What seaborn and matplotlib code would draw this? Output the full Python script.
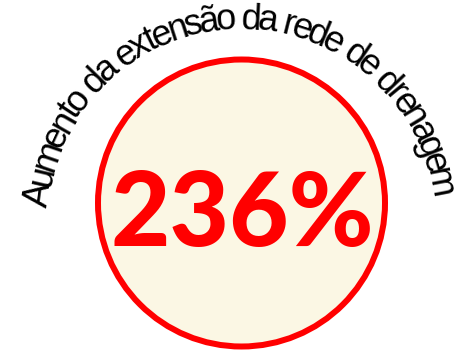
import numpy as np
import matplotlib
matplotlib.use("Agg")
import matplotlib.pyplot as plt
import seaborn as sns
from matplotlib.patches import Circle
from matplotlib import font_manager as fm

# ---- data ----
title_text = "Aumento da extensão da rede de drenagem"
value = 236
value_label = f"{value}%"

# ---- style ----
sns.set_theme(style="white")
plt.rcParams["font.family"] = ["Liberation Sans", "DejaVu Sans"]

W, H, DPI = 461, 354, 100
fig = plt.figure(figsize=(W / DPI, H / DPI), dpi=DPI)
ax = fig.add_axes([0, 0, 1, 1])
ax.set_xlim(0, W)
ax.set_ylim(H, 0)
ax.axis("off")

# circle
ccx, ccy, r_out, lw_px = 241.5, 203.0, 146.5, 6.0
ax.add_patch(Circle((ccx, ccy), r_out - lw_px / 2, facecolor="#FBF7E4",
                    edgecolor="#FF0000", linewidth=lw_px * 72 / DPI, zorder=1))

# big value: pick a bold narrow face if present
cands = [f for f in fm.fontManager.ttflist
         if f.name == "Liberation Sans Narrow" and (f.weight in ("bold", 700) or
                                                    "Bold" in f.fname) and "Italic" not in f.fname]
if cands:
    vprop = fm.FontProperties(fname=cands[0].fname, size=85)
else:
    vprop = fm.FontProperties(family="Lato", weight="black", size=74)
ax.text(242, 246, value_label, ha="center", va="baseline", fontproperties=vprop,
        color="#FF0000", zorder=3)

# curved title
arc_fs = 26
acx, acy, R = 240.0, 222.0, 193.0
th_s, th_e = np.radians(175.0), np.radians(7.4)
fp = fm.FontProperties(family="Liberation Sans", size=arc_fs)
font = fm.get_font(fm.findfont(fp))
font.set_size(arc_fs, DPI)
adv = np.array([font.load_char(ord(c)).linearHoriAdvance / 65536 for c in title_text])
k = R * (th_s - th_e) / adv.sum()
centers = k * (np.cumsum(adv) - adv / 2)
for ch, s in zip(title_text, centers):
    th = th_s - s / R
    x = acx + R * np.cos(th)
    y = acy - R * np.sin(th)
    ax.text(x, y, ch, ha="center", va="baseline", rotation=np.degrees(th) - 90,
            rotation_mode="anchor", fontsize=arc_fs, family="Liberation Sans",
            color="black", zorder=4)

fig.savefig("out.png", dpi=DPI)
